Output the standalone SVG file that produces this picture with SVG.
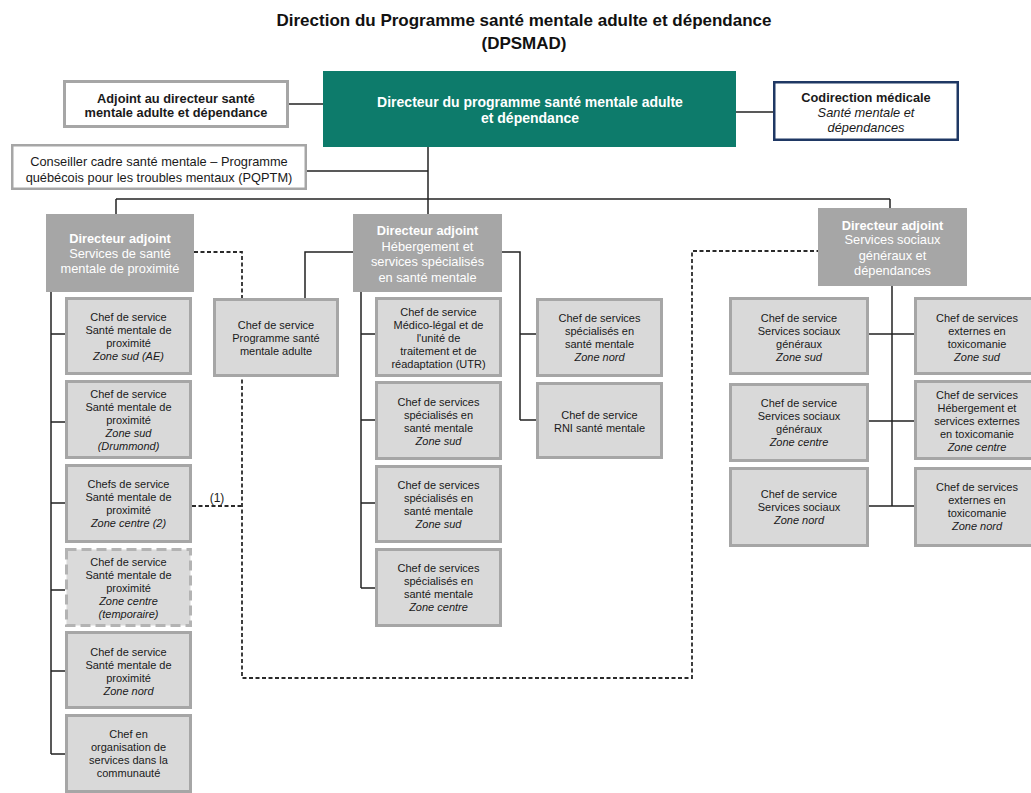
<svg xmlns="http://www.w3.org/2000/svg" width="1031" height="793" viewBox="0 0 1031 793">
  <style>
    text { font-family: "Liberation Sans", Arial, sans-serif; text-anchor: middle; }
    .title { font-size: 17px; font-weight: bold; fill: #111; }
    .hd { font-size: 12.8px; font-weight: bold; fill: #1a1a1a; }
    .dir { font-size: 14px; font-weight: bold; fill: #ffffff; }
    .da { font-size: 12.8px; fill: #ffffff; }
    .dab { font-size: 12.8px; font-weight: bold; fill: #ffffff; }
    .sm { font-size: 12.8px; fill: #1a1a1a; }
    .t { font-size: 11px; fill: #1a1a1a; }
    .i { font-style: italic; }
    .box { fill: #d9d9d9; stroke: #a6a6a6; stroke-width: 3; }
    .tmp { fill: #dadada; stroke: #b3b3b3; stroke-width: 3; stroke-dasharray: 10 5; }
    .da-box { fill: #a6a6a6; }
    .wbox { fill: #ffffff; stroke: #a6a6a6; stroke-width: 3; }
    .link { fill: none; stroke: #222; stroke-width: 1.5; }
    .dash { fill: none; stroke: #2a2a2a; stroke-width: 1.8; stroke-dasharray: 4 2.5; }
  </style>

  <rect width="1031" height="793" fill="#ffffff"/>

  <!-- Title -->
  <g id="title">
    <text class="title" x="524" y="26">Direction du Programme santé mentale adulte et dépendance</text>
    <text class="title" x="524" y="49">(DPSMAD)</text>
  </g>

  <!-- Connectors -->
  <g id="connectors">
    <path class="link" d="M289 104 H323"/>
    <path class="link" d="M736 112 H773"/>
    <path class="link" d="M428 147 V199"/>
    <path class="link" d="M307 171 H428"/>
    <path class="link" d="M116 199 H890"/>
    <path class="link" d="M116 199 V214"/>
    <path class="link" d="M428 199 V214"/>
    <path class="link" d="M890 199 V208"/>
    <!-- DA1 branch -->
    <path class="link" d="M51 292 V754"/>
    <path class="link" d="M51 334 H65 M51 422 H65 M51 503 H65 M51 590 H65 M51 671 H65 M51 754 H65"/>
    <!-- DA2 branches -->
    <path class="link" d="M353 252 H305 V298"/>
    <path class="link" d="M361 292 V588"/>
    <path class="link" d="M361 334 H375 M361 420 H375 M361 503 H375 M361 588 H375"/>
    <path class="link" d="M502 252 H520 V420"/>
    <path class="link" d="M520 334 H536 M520 420 H536"/>
    <!-- DA3 branch -->
    <path class="link" d="M892 286 V506"/>
    <path class="link" d="M869 334 H914 M869 421 H914 M869 506 H914"/>
    <!-- dotted functional links -->
    <path class="dash" d="M194 252 H242 V678 H692 V251 H818"/>
    <path class="dash" d="M192 506 H242"/>
    <text class="t" x="217" y="502" style="font-size:12px">(1)</text>
  </g>

  <!-- Top level -->
  <g id="adjoint">
    <rect class="wbox" x="64.5" y="81.5" width="223" height="45"/>
    <text class="hd" x="176" y="102.5">Adjoint au directeur santé</text>
    <text class="hd" x="176" y="117">mentale adulte et dépendance</text>
  </g>
  <g id="directeur">
    <rect x="323" y="71" width="413" height="76" fill="#0d7b6b"/>
    <text class="dir" x="530" y="106.5">Directeur du programme santé mentale adulte</text>
    <text class="dir" x="530" y="123">et dépendance</text>
  </g>
  <g id="codirection">
    <rect x="774.25" y="82.25" width="183.5" height="57.5" fill="#ffffff" stroke="#1f3864" stroke-width="2.5"/>
    <text class="hd" x="866" y="101.5">Codirection médicale</text>
    <text class="sm i" x="866" y="116.5">Santé mentale et</text>
    <text class="sm i" x="866" y="131.5">dépendances</text>
  </g>
  <g id="conseiller">
    <rect class="wbox" x="12.25" y="145.25" width="293.5" height="43.5" style="stroke-width:2.5"/>
    <text class="sm" x="159" y="165.5">Conseiller cadre santé mentale – Programme</text>
    <text class="sm" x="159" y="182">québécois pour les troubles mentaux (PQPTM)</text>
  </g>

  <!-- Directeurs adjoints -->
  <g id="da-proximite">
    <rect class="da-box" x="46" y="214" width="148" height="78"/>
    <text class="dab" x="120" y="243">Directeur adjoint</text>
    <text class="da" x="120" y="258">Services de santé</text>
    <text class="da" x="120" y="273">mentale de proximité</text>
  </g>
  <g id="da-hebergement">
    <rect class="da-box" x="353" y="214" width="149" height="78"/>
    <text class="dab" x="427.5" y="235">Directeur adjoint</text>
    <text class="da" x="427.5" y="250.5">Hébergement et</text>
    <text class="da" x="427.5" y="266">services spécialisés</text>
    <text class="da" x="427.5" y="281.5">en santé mentale</text>
  </g>
  <g id="da-sociaux">
    <rect class="da-box" x="818" y="208" width="149" height="78"/>
    <text class="dab" x="892.5" y="229.5">Directeur adjoint</text>
    <text class="da" x="892.5" y="244">Services sociaux</text>
    <text class="da" x="892.5" y="259.5">généraux et</text>
    <text class="da" x="892.5" y="274.5">dépendances</text>
  </g>

  <!-- Santé mentale de proximité -->
  <g id="smp-sud-ae">
    <rect class="box" x="66.5" y="298.5" width="124" height="75"/>
    <text class="t" x="128.5" y="321">Chef de service</text>
    <text class="t" x="128.5" y="334">Santé mentale de</text>
    <text class="t" x="128.5" y="347">proximité</text>
    <text class="t i" x="128.5" y="360">Zone sud (AE)</text>
  </g>
  <g id="smp-sud-drummond">
    <rect class="box" x="66.5" y="381.5" width="124" height="76"/>
    <text class="t" x="128.5" y="398">Chef de service</text>
    <text class="t" x="128.5" y="411">Santé mentale de</text>
    <text class="t" x="128.5" y="424">proximité</text>
    <text class="t i" x="128.5" y="437">Zone sud</text>
    <text class="t i" x="128.5" y="450">(Drummond)</text>
  </g>
  <g id="smp-centre">
    <rect class="box" x="66.5" y="465.5" width="124" height="76"/>
    <text class="t" x="128.5" y="488">Chefs de service</text>
    <text class="t" x="128.5" y="501">Santé mentale de</text>
    <text class="t" x="128.5" y="514">proximité</text>
    <text class="t i" x="128.5" y="527">Zone centre (2)</text>
  </g>
  <g id="smp-centre-temp">
    <rect class="tmp" x="66.5" y="549.5" width="124" height="76"/>
    <text class="t" x="128.5" y="566">Chef de service</text>
    <text class="t" x="128.5" y="579">Santé mentale de</text>
    <text class="t" x="128.5" y="592">proximité</text>
    <text class="t i" x="128.5" y="605">Zone centre</text>
    <text class="t i" x="128.5" y="618">(temporaire)</text>
  </g>
  <g id="smp-nord">
    <rect class="box" x="66.5" y="632.5" width="124" height="75"/>
    <text class="t" x="128.5" y="656">Chef de service</text>
    <text class="t" x="128.5" y="669">Santé mentale de</text>
    <text class="t" x="128.5" y="682">proximité</text>
    <text class="t i" x="128.5" y="695">Zone nord</text>
  </g>
  <g id="organisation-communaute">
    <rect class="box" x="66.5" y="715.5" width="124" height="76"/>
    <text class="t" x="128.5" y="738">Chef en</text>
    <text class="t" x="128.5" y="751">organisation de</text>
    <text class="t" x="128.5" y="764">services dans la</text>
    <text class="t" x="128.5" y="777">communauté</text>
  </g>

  <g id="programme-adulte">
    <rect class="box" x="214.5" y="299.5" width="123" height="76"/>
    <text class="t" x="276" y="329">Chef de service</text>
    <text class="t" x="276" y="342">Programme santé</text>
    <text class="t" x="276" y="355">mentale adulte</text>
  </g>

  <!-- Hébergement et services spécialisés -->
  <g id="medico-legal">
    <rect class="box" x="376.5" y="298.5" width="124" height="77"/>
    <text class="t" x="438.5" y="316">Chef de service</text>
    <text class="t" x="438.5" y="329">Médico-légal et de</text>
    <text class="t" x="438.5" y="342">l'unité de</text>
    <text class="t" x="438.5" y="355">traitement et de</text>
    <text class="t" x="438.5" y="368">réadaptation (UTR)</text>
  </g>
  <g id="specialises-sud-1">
    <rect class="box" x="376.5" y="382.5" width="124" height="76"/>
    <text class="t" x="438.5" y="406">Chef de services</text>
    <text class="t" x="438.5" y="419">spécialisés en</text>
    <text class="t" x="438.5" y="432">santé mentale</text>
    <text class="t i" x="438.5" y="445">Zone sud</text>
  </g>
  <g id="specialises-sud-2">
    <rect class="box" x="376.5" y="466.5" width="124" height="75"/>
    <text class="t" x="438.5" y="489">Chef de services</text>
    <text class="t" x="438.5" y="502">spécialisés en</text>
    <text class="t" x="438.5" y="515">santé mentale</text>
    <text class="t i" x="438.5" y="528">Zone sud</text>
  </g>
  <g id="specialises-centre">
    <rect class="box" x="376.5" y="549.5" width="124" height="76"/>
    <text class="t" x="438.5" y="572">Chef de services</text>
    <text class="t" x="438.5" y="585">spécialisés en</text>
    <text class="t" x="438.5" y="598">santé mentale</text>
    <text class="t i" x="438.5" y="611">Zone centre</text>
  </g>
  <g id="specialises-nord">
    <rect class="box" x="537.5" y="299.5" width="124" height="76"/>
    <text class="t" x="599.5" y="322">Chef de services</text>
    <text class="t" x="599.5" y="335">spécialisés en</text>
    <text class="t" x="599.5" y="348">santé mentale</text>
    <text class="t i" x="599.5" y="361">Zone nord</text>
  </g>
  <g id="rni">
    <rect class="box" x="537.5" y="383.5" width="124" height="74"/>
    <text class="t" x="599.5" y="419">Chef de service</text>
    <text class="t" x="599.5" y="432">RNI santé mentale</text>
  </g>

  <!-- Services sociaux généraux et dépendances -->
  <g id="ssg-sud">
    <rect class="box" x="730.5" y="298.5" width="137" height="75"/>
    <text class="t" x="799" y="322">Chef de service</text>
    <text class="t" x="799" y="335">Services sociaux</text>
    <text class="t" x="799" y="348">généraux</text>
    <text class="t i" x="799" y="361">Zone sud</text>
  </g>
  <g id="ssg-centre">
    <rect class="box" x="730.5" y="384.5" width="137" height="76"/>
    <text class="t" x="799" y="407">Chef de service</text>
    <text class="t" x="799" y="420">Services sociaux</text>
    <text class="t" x="799" y="433">généraux</text>
    <text class="t i" x="799" y="446">Zone centre</text>
  </g>
  <g id="ss-nord">
    <rect class="box" x="730.5" y="468.5" width="137" height="77"/>
    <text class="t" x="799" y="498">Chef de service</text>
    <text class="t" x="799" y="511">Services sociaux</text>
    <text class="t i" x="799" y="524">Zone nord</text>
  </g>
  <g id="tox-sud">
    <rect class="box" x="915.5" y="298.5" width="126" height="75"/>
    <text class="t" x="977" y="322">Chef de services</text>
    <text class="t" x="977" y="335">externes en</text>
    <text class="t" x="977" y="348">toxicomanie</text>
    <text class="t i" x="977" y="361">Zone sud</text>
  </g>
  <g id="tox-centre">
    <rect class="box" x="915.5" y="381.5" width="126" height="77"/>
    <text class="t" x="977" y="399">Chef de services</text>
    <text class="t" x="977" y="412">Hébergement et</text>
    <text class="t" x="977" y="425">services externes</text>
    <text class="t" x="977" y="438">en toxicomanie</text>
    <text class="t i" x="977" y="451">Zone centre</text>
  </g>
  <g id="tox-nord">
    <rect class="box" x="915.5" y="468.5" width="126" height="77"/>
    <text class="t" x="977" y="491">Chef de services</text>
    <text class="t" x="977" y="504">externes en</text>
    <text class="t" x="977" y="517">toxicomanie</text>
    <text class="t i" x="977" y="530">Zone nord</text>
  </g>
</svg>
